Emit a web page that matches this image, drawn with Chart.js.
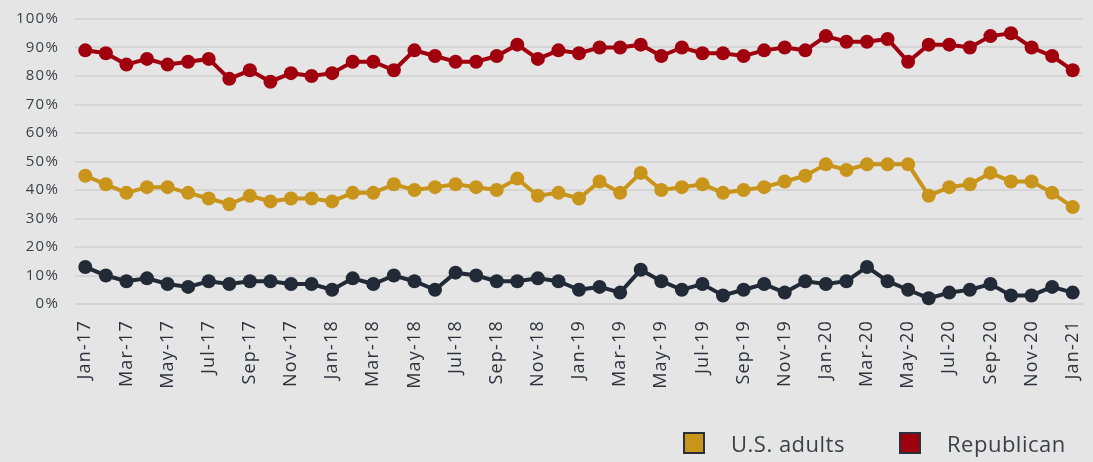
<!DOCTYPE html>
<html>
<head>
<meta charset="utf-8">
<script src="https://cdn.jsdelivr.net/npm/chart.js@4/dist/chart.umd.min.js"></script>
<style>
  html, body { margin: 0; padding: 0; background: #e5e5e5; }
  #wrap { position: relative; width: 1093px; height: 462px; background: #e5e5e5; overflow: hidden; }
  canvas { position: absolute; left: 0; top: 0; }
  .item { position: absolute; top: 431px; height: 23px; display: flex; align-items: center; white-space: nowrap;
          font-family: "Open Sans", sans-serif; font-size: 22px; color: #3b3f47; letter-spacing: 0.5px; }
  .box { width: 18px; height: 18px; border: 2px solid #2a2f3a; margin-right: 26px; flex: none; }
</style>
</head>
<body>
<div id="wrap">
  <canvas id="c" width="1093" height="462"></canvas>
</div>
<script>
const months = ["Jan-17","Feb-17","Mar-17","Apr-17","May-17","Jun-17","Jul-17","Aug-17","Sep-17","Oct-17","Nov-17","Dec-17",
  "Jan-18","Feb-18","Mar-18","Apr-18","May-18","Jun-18","Jul-18","Aug-18","Sep-18","Oct-18","Nov-18","Dec-18",
  "Jan-19","Feb-19","Mar-19","Apr-19","May-19","Jun-19","Jul-19","Aug-19","Sep-19","Oct-19","Nov-19","Dec-19",
  "Jan-20","Feb-20","Mar-20","Apr-20","May-20","Jun-20","Jul-20","Aug-20","Sep-20","Oct-20","Nov-20","Dec-20","Jan-21"];

const usAdults = [45,42,39,41,41,39,37,35,38,36,37,37,36,39,39,42,40,
  41,42,41,40,44,38,39,37,43,39,46,40,41,42,39,40,
  41,43,45,49,47,49,49,49,38,41,42,46,43,43,39,34];

const republican = [89,88,84,86,84,85,86,79,82,78,81,80,81,85,85,82,89,
  87,85,85,87,91,86,89,88,90,90,91,87,90,88,88,87,
  89,90,89,94,92,92,93,85,91,91,90,94,95,90,87,82];

const democrat = [13,10,8,9,7,6,8,7,8,8,7,7,5,9,7,10,8,
  5,11,10,8,8,9,8,5,6,4,12,8,5,7,3,5,
  7,4,8,7,8,13,8,5,2,4,5,7,3,3,6,4];

const yTicks = [0,10,20,30,40,50,60,70,80,90,100];
const legendNames = ["U.S. adults","Republican"];
const legendLeft = [683, 899];

const colors = { "U.S. adults": "#c8941a", "Republican": "#a0000e", "Democrat": "#212a36" };

function ds(label, data) {
  return {
    label, data,
    borderColor: colors[label], backgroundColor: colors[label],
    pointBackgroundColor: colors[label], pointBorderColor: colors[label],
    borderWidth: 4, pointRadius: 7, pointHoverRadius: 7, pointBorderWidth: 0,
    tension: 0, clip: false
  };
}

const spacing = {
  id: 'spacing',
  beforeDraw(chart) { chart.ctx.letterSpacing = '1.2px'; },
  afterDraw(chart) { chart.ctx.letterSpacing = '0px'; }
};

const chart = new Chart(document.getElementById('c'), {
  type: 'line',
  data: {
    labels: months,
    datasets: [ds("Republican", republican), ds("U.S. adults", usAdults), ds("Democrat", democrat)]
  },
  options: {
    responsive: false,
    animation: false,
    events: [],
    layout: { padding: { left: 0, right: 10, top: 19, bottom: 0 } },
    plugins: { legend: { display: false }, tooltip: { enabled: false } },
    scales: {
      x: {
        type: 'category',
        offset: true,
        grid: { display: false, drawTicks: false },
        border: { display: false },
        ticks: {
          autoSkip: false, minRotation: 90, maxRotation: 90, padding: 16,
          color: '#2d333d',
          font: { family: '"Open Sans", sans-serif', size: 18 },
          callback: (v, i) => (i % 2 === 0 ? months[i] : '')
        },
        afterFit(s) { s.height = 158; s.paddingLeft = 0; s.paddingRight = 0; }
      },
      y: {
        min: 0, max: 100,
        afterBuildTicks(s) { s.ticks = yTicks.map(v => ({ value: v })); },
        grid: { color: '#d5d5d5', lineWidth: 2, drawTicks: false },
        border: { display: false },
        ticks: {
          padding: 16, color: '#3b3f47',
          font: { family: '"Open Sans", sans-serif', size: 15 },
          callback: v => v + '%'
        },
        afterFit(s) { s.width = 75; s.paddingTop = 0; s.paddingBottom = 0; }
      }
    }
  },
  plugins: [spacing]
});

const wrap = document.getElementById('wrap');
legendNames.forEach((n, i) => {
  const it = document.createElement('div'); it.className = 'item'; it.style.left = legendLeft[i] + 'px';
  const b = document.createElement('div'); b.className = 'box'; b.style.background = colors[n];
  const t = document.createElement('span'); t.textContent = n;
  it.appendChild(b); it.appendChild(t); wrap.appendChild(it);
});
</script>
</body>
</html>
